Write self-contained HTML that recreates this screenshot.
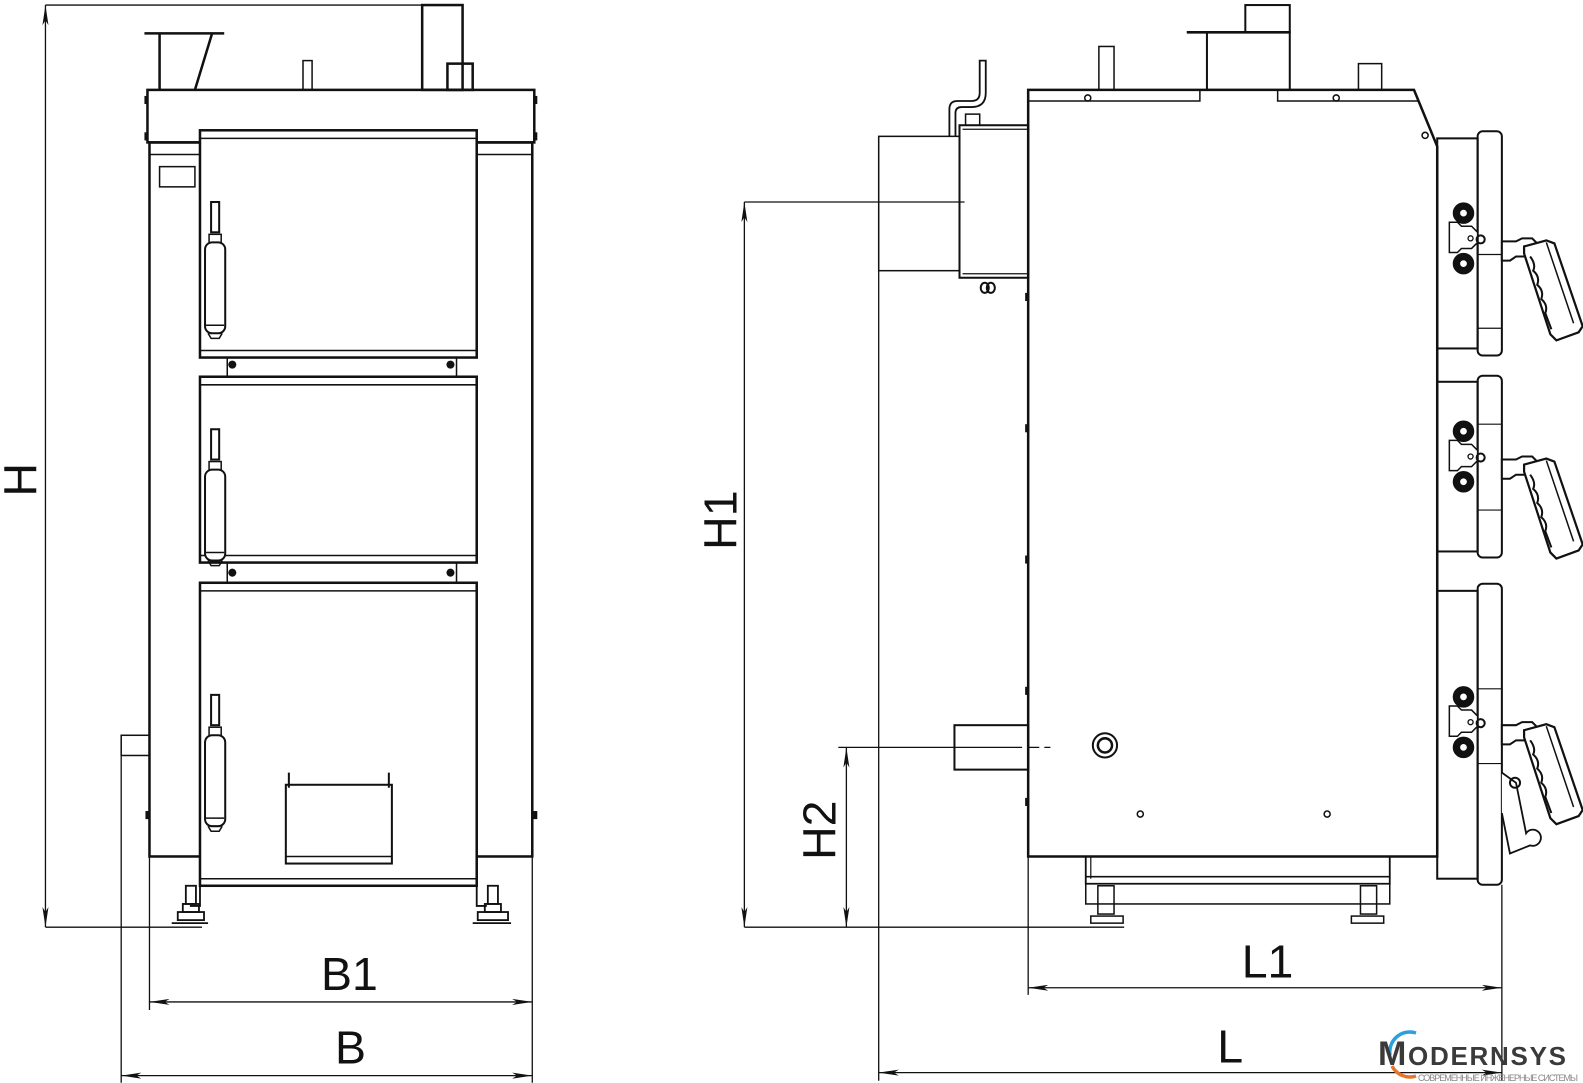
<!DOCTYPE html>
<html><head><meta charset="utf-8"><style>
html,body{margin:0;padding:0;background:#fff;}
svg{display:block}
text{font-family:"Liberation Sans",sans-serif;fill:#111}
</style></head><body>
<svg width="1583" height="1083" viewBox="0 0 1583 1083" xmlns="http://www.w3.org/2000/svg">
<defs>
<marker id="a" viewBox="0 0 20 6" refX="20" refY="3" markerWidth="20" markerHeight="6" markerUnits="userSpaceOnUse" orient="auto-start-reverse"><path d="M0,0 L20,3 L0,6 L5,3 Z" fill="#111"/></marker>
<g id="hnd">
<rect x="0" y="0" width="8" height="30" fill="#fff" stroke="#111" stroke-width="2"/>
<rect x="-2" y="32" width="12" height="10" fill="#fff" stroke="#111" stroke-width="1.5"/>
<rect x="-6" y="40" width="20" height="90" rx="7" fill="#fff" stroke="#111" stroke-width="2"/>
<path d="M-5,122 h18 M-3,130 l3,5 h8 l3,-5" stroke="#111" stroke-width="1.5" fill="none"/>
</g>
<g id="sd">
<circle cx="0" cy="-25" r="10" fill="#111"/><circle cx="0" cy="-25" r="4" fill="#fff"/>
<circle cx="0" cy="25" r="10" fill="#111"/><circle cx="0" cy="25" r="4" fill="#fff"/>
<path d="M-14,-16 h8 l4,4 h10 l6,6 v10 l-6,6 h-10 l-4,4 h-8 z" fill="#fff" stroke="#111" stroke-width="1.5"/>
<circle cx="7" cy="0" r="2.5" fill="none" stroke="#111" stroke-width="1.3"/>
<circle cx="17" cy="1" r="4" fill="none" stroke="#111" stroke-width="2"/>
<path d="M38,3 h14 l6,-3 h10 l4,4 v10 l-10,4 h-10 l-6,4 h-8 z" fill="#fff" stroke="#111" stroke-width="2"/>
<path d="M60,8 l22,-6 l8,3 l28,82 l-4,6 l-22,8 l-6,-6 l-26,-80 z" fill="#fff" stroke="#111" stroke-width="2.2"/>
<path d="M66,18 q6,8 3,14 q7,6 4,14 q7,6 4,14 q7,6 4,14 l6,16" fill="none" stroke="#111" stroke-width="2"/>
<path d="M82,4 l27,80" fill="none" stroke="#111" stroke-width="1.5"/>
</g>
</defs>
<g transform="scale(1.01)" fill="none" stroke="#111" stroke-width="1.3">
<line x1="45" y1="5" x2="458" y2="5"/>
<line x1="45" y1="918" x2="200" y2="918"/>
<line x1="45" y1="5" x2="45" y2="918" marker-start="url(#a)" marker-end="url(#a)"/>
<g stroke-width="2.5">
<rect x="146" y="89" width="383" height="52"/>
<rect x="148" y="141" width="379" height="707"/>
<rect x="418" y="5" width="40" height="84"/>
<rect x="443" y="63" width="25" height="26"/>
<line x1="143" y1="33" x2="222" y2="33"/>
<line x1="158" y1="33" x2="158" y2="89"/>
<line x1="210" y1="33" x2="193" y2="89"/>
<rect x="300" y="60" width="9" height="29" stroke-width="1.5"/>
<line x1="148" y1="153" x2="198" y2="153" stroke-width="1.5"/>
<line x1="472" y1="153" x2="527" y2="153" stroke-width="1.5"/>
<rect x="158" y="165" width="35" height="20" stroke-width="1.5"/>
<rect x="120" y="728" width="28" height="20" stroke-width="1.5"/>
<rect x="198" y="129" width="274" height="225" fill="#fff"/>
<line x1="198" y1="137" x2="472" y2="137" stroke-width="1.5"/>
<line x1="198" y1="347" x2="472" y2="347" stroke-width="1.5"/>
<rect x="225" y="354" width="227" height="19" stroke-width="1.5"/>
<rect x="198" y="373" width="274" height="184" fill="#fff"/>
<line x1="198" y1="381" x2="472" y2="381" stroke-width="1.5"/>
<line x1="198" y1="550" x2="472" y2="550" stroke-width="1.5"/>
<rect x="225" y="557" width="227" height="20" stroke-width="1.5"/>
<rect x="198" y="577" width="274" height="300" fill="#fff"/>
<line x1="198" y1="585" x2="472" y2="585" stroke-width="1.5"/>
<line x1="198" y1="870" x2="472" y2="870" stroke-width="1.5"/>
<rect x="283" y="777" width="105" height="78" stroke-width="2"/>
<line x1="283" y1="848" x2="388" y2="848" stroke-width="1.5"/>
<path d="M286,765 v15 M385,765 v15" stroke-width="2"/>
</g>
<g fill="#111" stroke="none">
<circle cx="230" cy="361" r="4"/><circle cx="446" cy="361" r="4"/>
<circle cx="230" cy="567" r="4"/><circle cx="446" cy="567" r="4"/>
<rect x="143" y="95" width="4" height="8"/><rect x="528" y="95" width="4" height="8"/>
<rect x="143" y="131" width="4" height="8"/><rect x="528" y="131" width="4" height="8"/>
<rect x="528" y="803" width="4" height="8"/><rect x="144" y="803" width="4" height="8"/>
</g>
<use href="#hnd" x="209" y="200"/>
<use href="#hnd" x="209" y="425"/>
<use href="#hnd" x="209" y="688"/>
<g stroke-width="1.8">
<path d="M198,877 v20 h-10 M472,877 v20 h10"/>
<rect x="176" y="903" width="26" height="8"/><rect x="181" y="895" width="16" height="8"/><rect x="184" y="877" width="10" height="18"/>
<rect x="473" y="903" width="30" height="8"/><rect x="480" y="895" width="16" height="8"/><rect x="483" y="877" width="10" height="18"/>
<line x1="170" y1="914" x2="206" y2="914"/><line x1="468" y1="914" x2="506" y2="914"/>
</g>
<line x1="148" y1="848" x2="148" y2="1000"/>
<line x1="527" y1="848" x2="527" y2="1072"/>
<line x1="120" y1="748" x2="120" y2="1072"/>
<line x1="148" y1="992" x2="527" y2="992" marker-start="url(#a)" marker-end="url(#a)"/>
<line x1="120" y1="1065" x2="527" y2="1065" marker-start="url(#a)" marker-end="url(#a)"/>

<g stroke-width="2.5">
<path d="M1018,89 H1400 L1423,145 V848 H1018 Z" fill="#fff"/>
<path d="M1018,100 H1188 V89 M1265,89 V100 H1405" stroke-width="1.5"/>
<rect x="870" y="135" width="80" height="133" stroke-width="1.5"/>
<rect x="950" y="124" width="68" height="151" stroke-width="2"/>
<line x1="953" y1="128" x2="1018" y2="128" stroke-width="1.2"/>
<line x1="953" y1="271" x2="1018" y2="271" stroke-width="1.2"/>
<path d="M940,135 v-27 q0,-8 8,-8 h14 q8,0 8,-8 v-32 h6 v32 q0,14 -14,14 h-10 q-6,0 -6,6 v23" stroke-width="1.8"/>
<rect x="956" y="113" width="14" height="11" stroke-width="1.5"/>
<rect x="1088" y="46" width="15" height="43" stroke-width="1.5"/>
<line x1="1175" y1="32" x2="1277" y2="32"/>
<rect x="1195" y="32" width="82" height="57" stroke-width="2"/>
<rect x="1233" y="5" width="44" height="27" stroke-width="2"/>
<rect x="1345" y="63" width="23" height="26" stroke-width="1.5"/>
<rect x="945" y="718" width="73" height="44" stroke-width="2"/>
<circle cx="1094" cy="738" r="12" stroke-width="2"/><circle cx="1094" cy="738" r="7"/>
<circle cx="1129" cy="806" r="3" stroke-width="1.5"/><circle cx="1314" cy="806" r="3" stroke-width="1.5"/>
<circle cx="1077" cy="97" r="3" stroke-width="1.5"/><circle cx="1323" cy="97" r="3" stroke-width="1.5"/>
<circle cx="1411" cy="134" r="3" stroke-width="1.5"/>
<path d="M1075,848 v27 h301 v-27" stroke-width="1.8"/>
<line x1="1080" y1="848" x2="1080" y2="870" stroke-width="1.2"/>
<line x1="1075" y1="868" x2="1376" y2="868" stroke-width="1.5"/>
<rect x="1075" y="875" width="301" height="20" stroke-width="1.5"/>
<rect x="1087" y="877" width="16" height="28" stroke-width="1.5"/><rect x="1347" y="877" width="16" height="28" stroke-width="1.5"/>
<rect x="1080" y="907" width="32" height="7" stroke-width="1.5"/><rect x="1338" y="907" width="32" height="7" stroke-width="1.5"/>
</g>
<path d="M971,285 a4,5 0 1,1 8,0 a4,5 0 1,1 -8,0 M977,285 a4,5 0 1,1 8,0 a4,5 0 1,1 -8,0" stroke-width="2"/>
<g stroke-width="2">
<rect x="1423" y="137" width="40" height="208"/>
<rect x="1463" y="130" width="24" height="222" rx="5"/>
<rect x="1423" y="378" width="40" height="168"/>
<rect x="1463" y="372" width="24" height="180" rx="5"/>
<rect x="1423" y="585" width="40" height="285"/>
<rect x="1463" y="578" width="24" height="298" rx="5"/>
<path d="M1463,252 h24 M1463,325 h24 M1463,420 h24 M1463,505 h24 M1463,682 h24 M1463,756 h24" stroke-width="1.2"/>
<path d="M1487,765 l14,10 l10,50 a8,8 0 1,1 4,12 l-20,8 l-8,-40" stroke-width="1.8" fill="#fff"/>
<circle cx="1500" cy="775" r="5"/>
</g>
<use href="#sd" x="1449" y="236"/>
<use href="#sd" x="1449" y="452"/>
<use href="#sd" x="1449" y="715"/>
<g fill="#111" stroke="none">
<rect x="1015" y="290" width="4" height="8"/><rect x="1015" y="420" width="4" height="8"/><rect x="1015" y="550" width="4" height="8"/><rect x="1015" y="680" width="4" height="8"/><rect x="1015" y="790" width="4" height="8"/>
</g>
<line x1="737" y1="200" x2="955" y2="200"/>
<line x1="737" y1="200" x2="737" y2="918" marker-start="url(#a)" marker-end="url(#a)"/>
<line x1="737" y1="918" x2="1113" y2="918"/>
<line x1="830" y1="740" x2="1000" y2="740"/>
<line x1="1000" y1="740" x2="1040" y2="740" stroke-dasharray="12,5"/>
<line x1="838" y1="740" x2="838" y2="918" marker-start="url(#a)" marker-end="url(#a)"/>
<line x1="870" y1="268" x2="870" y2="1070"/>
<line x1="1018" y1="848" x2="1018" y2="985"/>
<line x1="1487" y1="876" x2="1487" y2="1070"/>
<line x1="1018" y1="978" x2="1487" y2="978" marker-start="url(#a)" marker-end="url(#a)"/>
<line x1="870" y1="1062" x2="1487" y2="1062" marker-start="url(#a)" marker-end="url(#a)"/>
</g>
<g transform="scale(1.01)">
<text x="346" y="980" font-size="46" text-anchor="middle">B1</text>
<text x="347" y="1053" font-size="46" text-anchor="middle">B</text>
<text x="1255" y="968" font-size="46" text-anchor="middle">L1</text>
<text x="1218" y="1052" font-size="46" text-anchor="middle">L</text>
<text transform="translate(36,475) rotate(-90)" font-size="46" text-anchor="middle">H</text>
<text transform="translate(729,515) rotate(-90)" font-size="46" text-anchor="middle">H1</text>
<text transform="translate(827,822) rotate(-90)" font-size="46" text-anchor="middle">H2</text>
</g>
<path d="M1390,1055 a20,20 0 0,1 26,-22" fill="none" stroke="#2aa0e0" stroke-width="3.5"/>
<path d="M1392,1066 a20,20 0 0,0 24,10" fill="none" stroke="#e8742a" stroke-width="3.5"/>
<text x="1378" y="1065" font-size="34" font-weight="bold" textLength="188" style="fill:#3a3a3a">M<tspan font-size="26">ODERNSYS</tspan></text>
<text x="1418" y="1081" font-size="9" textLength="160" style="fill:#888">СОВРЕМЕННЫЕ ИНЖЕНЕРНЫЕ СИСТЕМЫ</text>
</svg>
</body></html>
